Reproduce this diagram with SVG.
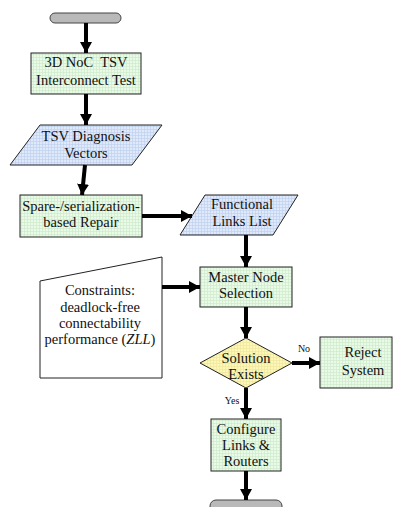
<svg xmlns="http://www.w3.org/2000/svg" width="393" height="507" viewBox="0 0 393 507">
<defs>
<pattern id="gG" width="3" height="3" patternUnits="userSpaceOnUse"><rect width="3" height="3" fill="#e8fbe6"/><path d="M0,0.5H3M0.5,0V3" stroke="#cde8c9" stroke-width="0.6"/></pattern>
<pattern id="gB" width="3" height="3" patternUnits="userSpaceOnUse"><rect width="3" height="3" fill="#dfe9f9"/><path d="M0,0.5H3M0.5,0V3" stroke="#bccfee" stroke-width="0.6"/></pattern>
<pattern id="gY" width="3" height="3" patternUnits="userSpaceOnUse"><rect width="3" height="3" fill="#fdf6b4"/><path d="M0,0.5H3M0.5,0V3" stroke="#ece59c" stroke-width="0.6"/></pattern>
<marker id="ah" markerUnits="userSpaceOnUse" markerWidth="11" markerHeight="12" refX="11" refY="6" orient="auto"><path d="M0,0L11,6L0,12z" fill="#000"/></marker>
</defs>
<style>
.t{font-family:Liberation Serif,serif;font-size:14.5px;fill:#111;text-anchor:middle}
.s{font-family:Liberation Serif,serif;font-size:10px;fill:#111;text-anchor:middle}
.g{fill:url(#gG);stroke:#222;stroke-width:1}
.b{fill:url(#gB);stroke:#222;stroke-width:1}
.term{fill:#b9b9b9;stroke:#444;stroke-width:1}
.c{stroke:#000;stroke-width:4;fill:none;marker-end:url(#ah)}
</style>
<g font-family="Liberation Serif">
<g id="start"><rect class="term" x="50" y="13" width="71" height="10" rx="5"/></g>
<g id="test"><rect class="g" x="31" y="53" width="110" height="41"/><text class="t" x="86" y="67" xml:space="preserve">3D NoC  TSV</text><text class="t" x="86" y="85">Interconnect Test</text></g>
<g id="vectors"><polygon class="b" points="40,125 162,125 132,165 10,165"/><text class="t" x="86" y="141">TSV Diagnosis</text><text class="t" x="86" y="158">Vectors</text></g>
<g id="repair"><rect class="g" x="20" y="195" width="122" height="42"/><text class="t" x="81" y="211">Spare-/serialization-</text><text class="t" x="81" y="227">based Repair</text></g>
<g id="links"><polygon class="b" points="205,195 298,195 273,235 180,235"/><text class="t" x="242" y="209">Functional</text><text class="t" x="242" y="226">Links List</text></g>
<g id="constraints"><polygon points="40,281 162,257 162,378 40,378" fill="#fff" stroke="#222" stroke-width="1"/><text class="t" x="100" y="295">Constraints:</text><text class="t" x="100" y="312">deadlock-free</text><text class="t" x="100" y="328">connectability</text><text class="t" x="100" y="344">performance (<tspan font-style="italic">ZLL</tspan>)</text></g>
<g id="master"><rect class="g" x="200" y="267" width="92" height="40"/><text class="t" x="246" y="282">Master Node</text><text class="t" x="246" y="298">Selection</text></g>
<g id="solution"><polygon points="246,338 292,363 246,388 200,363" fill="url(#gY)" stroke="#222" stroke-width="1"/><text class="t" x="246" y="363">Solution</text><text class="t" x="246" y="379">Exists</text></g>
<g id="reject"><rect class="g" x="320" y="337" width="72" height="51"/><text class="t" x="363" y="357">Reject</text><text class="t" x="363" y="375">System</text></g>
<g id="configure"><rect class="g" x="211" y="419" width="70" height="52"/><text class="t" x="246" y="434">Configure</text><text class="t" x="246" y="450">Links &amp;</text><text class="t" x="246" y="466">Routers</text></g>
<g id="end"><rect class="term" x="210" y="500" width="72" height="14" rx="6"/></g>
<g id="connectors">
<line class="c" x1="86" y1="23" x2="86" y2="53"/>
<line class="c" x1="86" y1="94" x2="86" y2="125"/>
<line class="c" x1="85" y1="165" x2="82" y2="195"/>
<line class="c" x1="142" y1="216" x2="192" y2="216"/>
<line class="c" x1="246" y1="235" x2="246" y2="267"/>
<line class="c" x1="162" y1="287" x2="200" y2="287"/>
<line class="c" x1="246" y1="307" x2="246" y2="338"/>
<line class="c" x1="292" y1="363" x2="320" y2="363"/>
<line class="c" x1="246" y1="388" x2="246" y2="419"/>
<line class="c" x1="246" y1="471" x2="246" y2="500"/>
<text class="s" x="304" y="352">No</text>
<text class="s" x="232" y="404">Yes</text>
</g>
</g>
</svg>
